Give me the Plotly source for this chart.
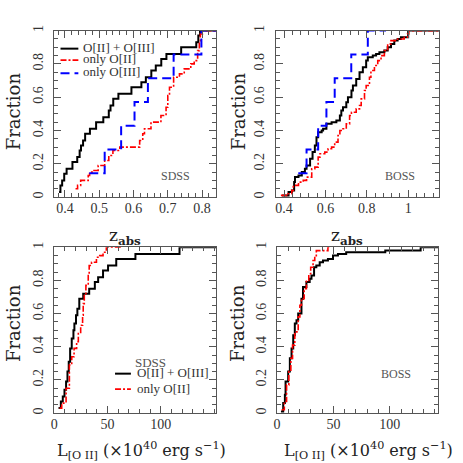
import plotly.graph_objects as go

# SDSS, redshift cumulative fractions (top left)
sdss_z_both = [0.383, 0.387, 0.392, 0.398, 0.405, 0.422, 0.436, 0.443, 0.447, 0.453,
               0.459, 0.473, 0.491, 0.512, 0.528, 0.533, 0.541, 0.556, 0.594, 0.623,
               0.636, 0.652, 0.665, 0.681, 0.696, 0.739, 0.783, 0.789, 0.794, 0.841]
sdss_z_both_frac = [0.03, 0.07, 0.10, 0.14, 0.17, 0.21, 0.24, 0.28, 0.31, 0.34,
                    0.38, 0.41, 0.45, 0.48, 0.52, 0.55, 0.59, 0.62, 0.66, 0.69,
                    0.72, 0.76, 0.79, 0.83, 0.86, 0.90, 0.93, 0.97, 1.0, 1.0]
sdss_z_oii = [0.431, 0.437, 0.446, 0.468, 0.472, 0.482, 0.497, 0.516, 0.528, 0.540,
              0.560, 0.618, 0.627, 0.632, 0.651, 0.680, 0.695, 0.700, 0.705, 0.717,
              0.734, 0.748, 0.767, 0.777, 0.787, 0.792, 0.795, 0.801, 0.841]
sdss_z_oii_frac = [0.05, 0.07, 0.10, 0.13, 0.15, 0.16, 0.19, 0.22, 0.25, 0.28,
                   0.30, 0.34, 0.38, 0.41, 0.45, 0.49, 0.54, 0.61, 0.66, 0.72,
                   0.74, 0.77, 0.80, 0.82, 0.88, 0.93, 0.98, 1.0, 1.0]
sdss_z_oiii = [0.471, 0.516, 0.564, 0.603, 0.642, 0.717, 0.798, 0.841]
sdss_z_oiii_frac = [0.143, 0.286, 0.429, 0.571, 0.714, 0.857, 1.0, 1.0]

# BOSS, redshift cumulative fractions (top right)
boss_z_both = [0.390, 0.422, 0.438, 0.449, 0.453, 0.470, 0.486, 0.501, 0.509, 0.526,
               0.538, 0.549, 0.557, 0.565, 0.582, 0.589, 0.605, 0.630, 0.653, 0.670,
               0.677, 0.685, 0.701, 0.709, 0.726, 0.733, 0.749, 0.765, 0.781, 0.797,
               0.805, 0.829, 0.845, 0.861, 0.885, 0.901, 0.917, 0.933, 0.949, 0.965,
               1.0, 1.15]
boss_z_both_frac = [0.01, 0.03, 0.04, 0.09, 0.12, 0.13, 0.15, 0.17, 0.19, 0.23,
                    0.27, 0.31, 0.36, 0.39, 0.40, 0.41, 0.44, 0.45, 0.46, 0.49,
                    0.52, 0.54, 0.57, 0.60, 0.64, 0.67, 0.71, 0.75, 0.78, 0.82,
                    0.84, 0.85, 0.86, 0.87, 0.88, 0.90, 0.92, 0.94, 0.95, 0.96,
                    1.0, 1.0]
boss_z_oii = [0.385, 0.413, 0.438, 0.445, 0.470, 0.493, 0.509, 0.534, 0.549, 0.565,
              0.574, 0.597, 0.613, 0.630, 0.645, 0.661, 0.670, 0.685, 0.701, 0.717,
              0.726, 0.749, 0.765, 0.773, 0.789, 0.797, 0.813, 0.820, 0.837, 0.853,
              0.869, 0.885, 0.901, 0.917, 0.949, 0.981, 0.997, 1.003, 1.15]
boss_z_oii_frac = [0.01, 0.02, 0.04, 0.07, 0.09, 0.10, 0.12, 0.17, 0.18, 0.24,
                   0.26, 0.27, 0.29, 0.30, 0.33, 0.37, 0.40, 0.41, 0.44, 0.49,
                   0.51, 0.53, 0.55, 0.59, 0.64, 0.67, 0.72, 0.76, 0.79, 0.82,
                   0.85, 0.88, 0.92, 0.94, 0.95, 0.96, 0.98, 1.0, 1.0]
boss_z_oiii = [0.469, 0.509, 0.565, 0.605, 0.645, 0.725, 0.805, 0.893]
boss_z_oiii_frac = [0.143, 0.286, 0.429, 0.571, 0.714, 0.857, 1.0, 1.0]

# SDSS, L[OII] cumulative fractions (bottom left), units of 1e40 erg/s
sdss_l_both = [4.0, 6.2, 8.0, 9.6, 11.1, 12.4, 13.6, 14.9, 16.4, 18.0,
               18.9, 20.4, 21.7, 23.5, 27.2, 32.8, 38.1, 41.2, 45.8, 50.5,
               58.2, 76.2, 117.6, 152.0]
sdss_l_both_frac = [0.03, 0.07, 0.10, 0.14, 0.19, 0.25, 0.31, 0.39, 0.45, 0.50,
                    0.54, 0.59, 0.63, 0.69, 0.72, 0.75, 0.79, 0.82, 0.86, 0.89,
                    0.93, 0.96, 1.0, 1.0]
sdss_l_oii = [5.0, 7.0, 11.1, 14.2, 16.4, 18.6, 21.0, 22.6, 24.8, 26.6,
              27.2, 28.2, 29.7, 31.9, 32.8, 35.0, 39.6, 42.7, 45.8, 48.9, 62.8]
sdss_l_oii_frac = [0.03, 0.06, 0.15, 0.29, 0.34, 0.39, 0.43, 0.48, 0.53, 0.59,
                   0.66, 0.72, 0.77, 0.83, 0.89, 0.91, 0.94, 0.95, 0.97, 1.0, 1.0]

# BOSS, L[OII] cumulative fractions (bottom right)
boss_l_both = [3.4, 5.4, 6.9, 7.5, 9.8, 11.3, 12.8, 14.3, 15.7, 17.2,
               18.7, 21.6, 23.0, 26.0, 28.9, 30.5, 32.8, 34.8, 37.8, 40.7,
               45.1, 49.6, 54.0, 61.3, 96.0, 127.4, 143.0]
boss_l_both_frac = [0.01, 0.06, 0.11, 0.19, 0.25, 0.33, 0.39, 0.47, 0.54, 0.56,
                    0.60, 0.69, 0.76, 0.79, 0.81, 0.83, 0.88, 0.89, 0.91, 0.92,
                    0.93, 0.95, 0.96, 0.97, 0.98, 1.0, 1.0]
boss_l_oii = [4.0, 6.4, 8.4, 10.4, 12.2, 13.7, 15.7, 18.7, 20.2, 21.6,
              24.0, 26.0, 28.1, 29.8, 31.9, 33.4, 34.8, 45.1, 48.0]
boss_l_oii_frac = [0.02, 0.07, 0.17, 0.25, 0.33, 0.41, 0.49, 0.58, 0.65, 0.69,
                   0.75, 0.80, 0.84, 0.88, 0.92, 0.95, 0.98, 1.0, 1.0]

z_ticks_sdss = [0.4, 0.5, 0.6, 0.7, 0.8]
z_ticks_boss = [0.4, 0.6, 0.8, 1.0]
l_ticks = [0, 50, 100]
frac_ticks = [0, 0.2, 0.4, 0.6, 0.8, 1.0]

BLACK, RED, BLUE = "black", "#ff0000", "#0000ff"
FRAME = "#555555"
TXT = "#333333"
SERIF = "Liberation Serif"
W = H = 463
DASHDOT = "6px,2px,2px,2px"
DASH = "9px,5px"

fig = go.Figure()


def step(x, y, ax, color, dash, width):
    fig.add_trace(go.Scatter(
        x=x, y=y, mode="lines", line_shape="hv",
        line=dict(color=color, dash=dash, width=width),
        xaxis="x" + ax, yaxis="y" + ax, showlegend=False,
    ))


step(sdss_z_both, sdss_z_both_frac, "", BLACK, "solid", 2)
step(sdss_z_oii, sdss_z_oii_frac, "", RED, DASHDOT, 1.6)
step(sdss_z_oiii, sdss_z_oiii_frac, "", BLUE, DASH, 2)

step(boss_z_both, boss_z_both_frac, "2", BLACK, "solid", 2)
step(boss_z_oii, boss_z_oii_frac, "2", RED, DASHDOT, 1.6)
step(boss_z_oiii, boss_z_oiii_frac, "2", BLUE, DASH, 2)

step(sdss_l_both, sdss_l_both_frac, "3", BLACK, "solid", 2)
step(sdss_l_oii, sdss_l_oii_frac, "3", RED, DASHDOT, 1.6)

step(boss_l_both, boss_l_both_frac, "4", BLACK, "solid", 2)
step(boss_l_oii, boss_l_oii_frac, "4", RED, DASHDOT, 1.6)


def px(x):
    return x / W


def py(y):
    return 1 - y / H


def axis(domain, rng, ticks, minor, anchor, angle=0, standoff=5):
    return dict(
        domain=domain, range=rng, tickmode="array", tickvals=ticks, anchor=anchor,
        showgrid=False, zeroline=False, showline=True, linecolor=FRAME, linewidth=1,
        mirror="allticks", ticks="inside", ticklen=7, tickcolor=FRAME, tickwidth=1,
        minor=dict(dtick=minor, tick0=0, ticks="inside", ticklen=4,
                   tickcolor=FRAME, tickwidth=1),
        tickfont=dict(family=SERIF, size=14, color=TXT), tickangle=angle,
        ticklabelstandoff=standoff,
    )


top_y = [py(194), py(25)]
bot_y = [py(413.3), py(245)]

fig.update_layout(
    width=W, height=H, margin=dict(l=0, r=0, t=0, b=0),
    paper_bgcolor="white", plot_bgcolor="white", showlegend=False,
    xaxis=axis([px(50.7), px(214)], [0.369, 0.841], z_ticks_sdss, 0.02, "y", standoff=-2),
    yaxis=axis(top_y, [0, 1], frac_ticks, 0.05, "x", -90),
    xaxis2=axis([px(274.3), px(439)], [0.361, 1.15], z_ticks_boss, 0.04, "y2", standoff=-2),
    yaxis2=axis(top_y, [0, 1], frac_ticks, 0.05, "x2", -90),
    xaxis3=axis([px(50.7), px(214)], [0, 152], l_ticks, 10, "y3", standoff=-2),
    yaxis3=axis(bot_y, [0, 1], frac_ticks, 0.05, "x3", -90),
    xaxis4=axis([px(275.5), px(438)], [0, 143], l_ticks, 10, "y4", standoff=-2),
    yaxis4=axis(bot_y, [0, 1], frac_ticks, 0.05, "x4", -90),
)
fig.update_xaxes(tickformat="~g")

# hand-made legends (rows sit tighter than plotly's own legend allows)
legend_rows = [
    # (sample x0, x1, y, color, dash, width, label, label x, label y)
    (57, 75, 43.3, BLACK, "solid", 2, "O[II] + O[III]", 78, 42.5),
    (57, 75, 55, RED, DASHDOT, 1.6, "only O[II]", 78, 53.5),
    (57, 75, 68.3, BLUE, DASH, 2, "only O[III]", 78, 67),
    (112, 128, 373.3, BLACK, "solid", 2, "O[II] + O[III]", 132, 372),
    (112, 128, 389, RED, DASHDOT, 1.6, "only O[II]", 132, 388.5),
]
shapes, notes = [], []
for x0, x1, y, color, dash, width, label, lx, ly in legend_rows:
    shapes.append(dict(type="line", xref="paper", yref="paper",
                       x0=px(x0), x1=px(x1), y0=py(y), y1=py(y),
                       line=dict(color=color, dash=dash, width=width)))
    notes.append(dict(text=label, x=px(lx), y=py(ly), xanchor="left",
                      font=dict(family=SERIF, size=13, color=TXT)))

label_font = dict(family="DejaVu Serif", size=18, color="#222222")
for x, y in [(9, 107), (236, 107), (9, 322), (235, 322)]:
    notes.append(dict(text="Fraction", x=px(x), y=py(y), textangle=-90, font=label_font))
for x in (122, 346):
    notes.append(dict(text="z<sub><b>abs</b></sub>", x=px(x), y=py(234),
                      font=dict(family="DejaVu Serif", size=17, color="#222222")))
for x in (139, 368):
    notes.append(dict(text="L<sub>[O II]</sub> (×10<sup>40</sup> erg s<sup>−1</sup>)",
                      x=px(x), y=py(451),
                      font=dict(family="DejaVu Serif", size=16, color="#222222")))
for text, x, y in [("SDSS", 173, 173), ("BOSS", 399, 173), ("BOSS", 395, 374),
                   ("SDSS", 130, 362)]:
    notes.append(dict(text=text, x=px(x), y=py(y),
                      xanchor="left" if y == 362 else "center",
                      font=dict(family=SERIF, size=12 if y != 362 else 13, color="#555555")))
for n in notes:
    n.setdefault("xanchor", "center")
    n.update(xref="paper", yref="paper", showarrow=False, yanchor="middle")
fig.update_layout(annotations=notes, shapes=shapes)

# the page's default body margin would shift the figure; drop it
fig.write_html("out.html", config={"displayModeBar": False},
               post_script="document.body.style.margin='0';")
